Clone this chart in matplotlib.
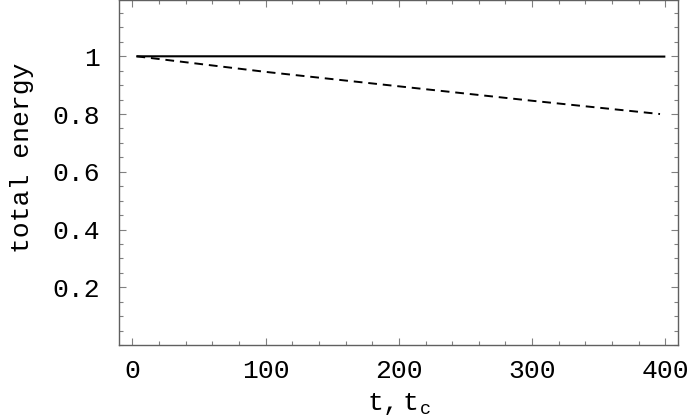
import matplotlib
matplotlib.use("Agg")
import matplotlib.pyplot as plt
from matplotlib.ticker import MultipleLocator

# values
t_solid = [3, 100, 200, 300, 400]
e_solid = [1.0, 1.0, 0.999, 0.999, 0.999]

t_dashed = [3, 100, 200, 300, 396]
e_dashed = [1.0, 0.946, 0.896, 0.846, 0.80]

xticks = [0, 100, 200, 300, 400]
yticks = [0.2, 0.4, 0.6, 0.8, 1.0]
yticklabels = ["0.2", "0.4", "0.6", "0.8", "1"]

plt.rcParams["font.family"] = ["Liberation Mono", "DejaVu Sans Mono"]

fig = plt.figure(figsize=(6.92, 4.2), dpi=100)
ax = fig.add_axes([119 / 692, 75 / 420, 559 / 692, 345 / 420])

ax.plot(t_solid, e_solid, color="black", lw=1.5, solid_capstyle="butt")
ax.plot(t_dashed, e_dashed, color="black", lw=1.4, dashes=(4.5, 3))

ax.set_xlim(-10.1, 409.5)
ax.set_ylim(0, 1.195)

ax.set_xticks(xticks)
ax.set_yticks(yticks)
ax.set_yticklabels(yticklabels)
ax.xaxis.set_minor_locator(MultipleLocator(20))
ax.yaxis.set_minor_locator(MultipleLocator(0.05))

ax.tick_params(which="both", direction="in", top=True, right=True,
               color="#808080", width=0.8, labelsize=19)
ax.tick_params(which="major", length=5)
ax.tick_params(which="minor", length=3)
ax.tick_params(axis="y", pad=14)
ax.tick_params(axis="x", pad=10)

for s in ax.spines.values():
    s.set_color("#606060")
    s.set_linewidth(1.0)

ax.set_xlabel(r"t,$\,$t$_\mathregular{c}$", fontsize=19)
ax.xaxis.set_label_coords(0.5, -46 / 345)
ax.set_ylabel("total energy", fontsize=19)
ax.yaxis.set_label_coords(-85 / 559, 0.542)

fig.savefig("out.png", dpi=100)
